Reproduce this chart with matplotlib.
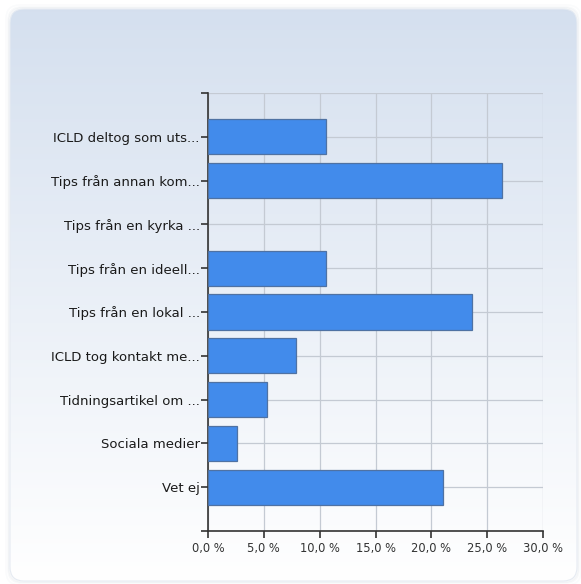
import numpy as np
import matplotlib
matplotlib.use("Agg")
import matplotlib.pyplot as plt
from matplotlib.patches import FancyBboxPatch
from matplotlib.ticker import FuncFormatter, MultipleLocator

plt.rcParams["font.family"] = ["DejaVu Sans"]

categories = [
    "ICLD deltog som uts...",
    "Tips från annan kom...",
    "Tips från en kyrka ...",
    "Tips från en ideell...",
    "Tips från en lokal ...",
    "ICLD tog kontakt me...",
    "Tidningsartikel om ...",
    "Sociala medier",
    "Vet ej",
]
shares = [10.53, 26.32, 0.0, 10.53, 23.68, 7.89, 5.26, 2.63, 21.05]

W, H = 581, 584
fig = plt.figure(figsize=(W / 100, H / 100), dpi=100)
fig.patch.set_facecolor("white")

# rounded panel with a soft blue-to-white gradient
bg = fig.add_axes([0, 0, 1, 1], zorder=0)
bg.set_xlim(0, W)
bg.set_ylim(H, 0)
bg.axis("off")
for pad, alpha in [(4, 0.03), (2, 0.05), (1, 0.07)]:
    bg.add_patch(FancyBboxPatch((10 - pad, 9 - pad), 567 + 2 * pad, 572 + 2 * pad,
                                boxstyle="round,pad=0,rounding_size=14",
                                fc="none", ec="#7f8fa5", lw=1.2, alpha=alpha))
panel = FancyBboxPatch((10, 9), 567, 572, boxstyle="round,pad=0,rounding_size=14",
                       fc="none", ec="#e6ebf2", lw=0.8)
bg.add_patch(panel)
grad = np.linspace(0, 1, 256)[:, None]
top = np.array([0.835, 0.878, 0.937])
bottom = np.array([1.0, 1.0, 1.0])
img = top + (bottom - top) * grad[..., None]
im = bg.imshow(img, extent=(10, 577, 581, 9), aspect="auto", interpolation="bilinear")
im.set_clip_path(panel)

# plot area
x0, x1, y0, y1 = 208, 543, 93, 531
ax = fig.add_axes([x0 / W, 1 - y1 / H, (x1 - x0) / W, (y1 - y0) / H], zorder=1)
ax.patch.set_alpha(0)

pos = np.arange(1, len(categories) + 1)
ax.barh(pos, shares, height=0.8, color="#428beb", edgecolor="#4f72a3",
        linewidth=[0.9 if v > 0 else 0 for v in shares], zorder=3)

ax.set_xlim(0, 30)
ax.set_ylim(10, 0)
ax.xaxis.set_major_locator(MultipleLocator(5))
ax.xaxis.set_major_formatter(FuncFormatter(lambda v, _: f"{v:.1f} %".replace(".", ",")))
ax.set_yticks(np.arange(0, 11))
ax.set_yticklabels([""] + categories + [""])

ax.grid(True, color="#c4cad3", linewidth=0.9, zorder=0)
for side in ("top", "right"):
    ax.spines[side].set_visible(False)
for side in ("left", "bottom"):
    ax.spines[side].set_color("#333333")
    ax.spines[side].set_linewidth(1.2)
ax.tick_params(axis="y", length=5, width=1.2, color="#333333", labelsize=9.5,
               labelcolor="#1a1a1a", pad=1)
ax.tick_params(axis="x", length=5, width=1.2, color="#333333", labelsize=8.3,
               labelcolor="#333333", pad=3)

fig.savefig("out.png", dpi=100, facecolor="white")
